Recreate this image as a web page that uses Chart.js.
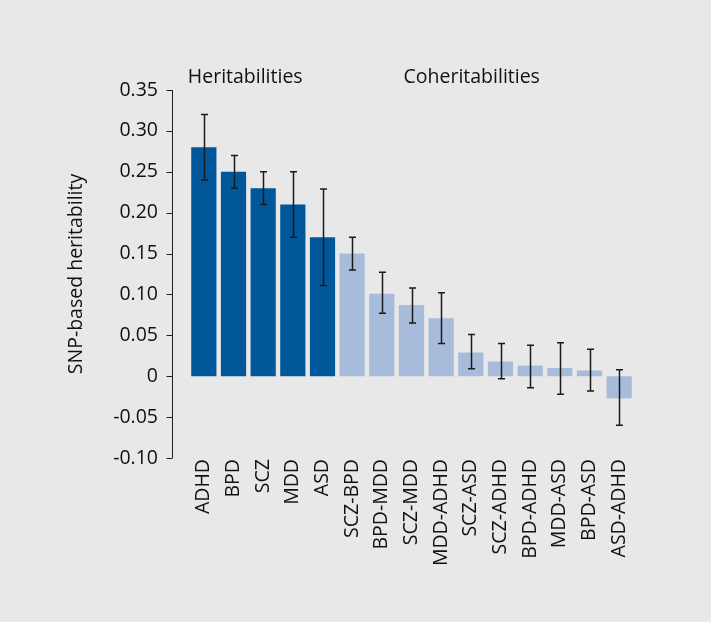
<!DOCTYPE html>
<html>
<head>
<meta charset="utf-8">
<script src="https://cdn.jsdelivr.net/npm/chart.js@4/dist/chart.umd.min.js"></script>
<style>
  body { margin: 0; background: #e8e8e8; }
  canvas { display: block; }
</style>
</head>
<body>
<canvas id="chart" width="711" height="622"></canvas>
<script>
const categories = ["ADHD", "BPD", "SCZ", "MDD", "ASD", "SCZ-BPD", "BPD-MDD", "SCZ-MDD", "MDD-ADHD", "SCZ-ASD", "SCZ-ADHD", "BPD-ADHD", "MDD-ASD", "BPD-ASD", "ASD-ADHD"];
const values = [0.28, 0.25, 0.23, 0.21, 0.17, 0.15, 0.101, 0.087, 0.071, 0.029, 0.018, 0.013, 0.010, 0.007, -0.027];
const errLow = [0.24, 0.23, 0.21, 0.17, 0.111, 0.13, 0.077, 0.065, 0.040, 0.009, -0.003, -0.014, -0.022, -0.018, -0.060];
const errHigh = [0.32, 0.27, 0.25, 0.25, 0.229, 0.17, 0.127, 0.108, 0.102, 0.051, 0.040, 0.038, 0.041, 0.033, 0.008];
const groups = ["h", "h", "h", "h", "h", "c", "c", "c", "c", "c", "c", "c", "c", "c", "c"];
const groupTitles = ["Heritabilities", "Coheritabilities"];
const yTicks = [-0.10, -0.05, 0, 0.05, 0.10, 0.15, 0.20, 0.25, 0.30, 0.35];

const DARK = "#00589b";
const LIGHT = "#a7bbdb";
const FONT = "'Open Sans', 'DejaVu Sans', sans-serif";
const FSIZE = 19.5;

// y axis line drawn a bit left of the first bar, like the original
const axisPlugin = {
  id: "axisLine",
  beforeDatasetsDraw(chart) {
    const ctx = chart.ctx, y = chart.scales.y, area = chart.chartArea;
    const x = Math.round(area.left - 17) + 0.5;
    ctx.save();
    ctx.strokeStyle = "#222";
    ctx.lineWidth = 1;
    ctx.beginPath();
    ctx.moveTo(x, area.top);
    ctx.lineTo(x, area.bottom);
    y.ticks.forEach(t => {
      const py = Math.round(y.getPixelForValue(t.value)) + 0.5;
      ctx.moveTo(x - 6, py);
      ctx.lineTo(x, py);
    });
    ctx.stroke();
    ctx.restore();
  }
};

const errorBars = {
  id: "errorBars",
  afterDatasetsDraw(chart) {
    const ctx = chart.ctx, y = chart.scales.y;
    const meta = chart.getDatasetMeta(0);
    ctx.save();
    ctx.strokeStyle = "#1a1a1a";
    ctx.lineWidth = 1.5;
    meta.data.forEach((bar, i) => {
      const x = Math.round(bar.x) + 0.5;
      const y1 = y.getPixelForValue(errHigh[i]);
      const y2 = y.getPixelForValue(errLow[i]);
      ctx.beginPath();
      ctx.moveTo(x, y1); ctx.lineTo(x, y2);
      ctx.moveTo(x - 3.5, y1); ctx.lineTo(x + 3.5, y1);
      ctx.moveTo(x - 3.5, y2); ctx.lineTo(x + 3.5, y2);
      ctx.stroke();
    });
    ctx.restore();
  }
};

const headers = {
  id: "headers",
  afterDraw(chart) {
    const ctx = chart.ctx, x = chart.scales.x;
    ctx.save();
    ctx.fillStyle = "#111";
    ctx.font = FSIZE + "px " + FONT;
    ctx.textBaseline = "middle";
    ctx.fillText(groupTitles[0], x.getPixelForValue(0) - 16, 77);
    ctx.fillText(groupTitles[1], x.getPixelForValue(7) - 8, 77);
    ctx.restore();
  }
};

new Chart(document.getElementById("chart"), {
  type: "bar",
  data: {
    labels: categories,
    datasets: [{
      data: values,
      backgroundColor: groups.map(g => g === "h" ? DARK : LIGHT),
      borderWidth: 0,
      barPercentage: 0.85,
      categoryPercentage: 1
    }]
  },
  options: {
    responsive: false,
    animation: false,
    devicePixelRatio: 1,
    layout: { padding: { top: 90, right: 77, left: 0, bottom: 0 } },
    plugins: { legend: { display: false }, tooltip: { enabled: false } },
    scales: {
      x: {
        grid: { display: false },
        border: { display: false },
        ticks: {
          autoSkip: false, maxRotation: 90, minRotation: 90, padding: -7,
          color: "#111", font: { family: FONT, size: FSIZE }
        },
        afterFit(s) { s.height = 164; }
      },
      y: {
        min: -0.10, max: 0.35,
        grid: { display: false },
        border: { display: false },
        afterBuildTicks(s) { s.ticks = yTicks.map(v => ({ value: v })); },
        ticks: {
          padding: 23, color: "#111", font: { family: FONT, size: FSIZE },
          callback: v => Math.abs(v) < 1e-9 ? "0" : v.toFixed(2)
        },
        title: {
          display: true, text: "SNP-based heritability", color: "#111",
          font: { family: FONT, size: FSIZE }, padding: { top: 65, bottom: 0 }
        },
        afterFit(s) { s.width = 189; }
      }
    }
  },
  plugins: [axisPlugin, errorBars, headers]
});
</script>
</body>
</html>
